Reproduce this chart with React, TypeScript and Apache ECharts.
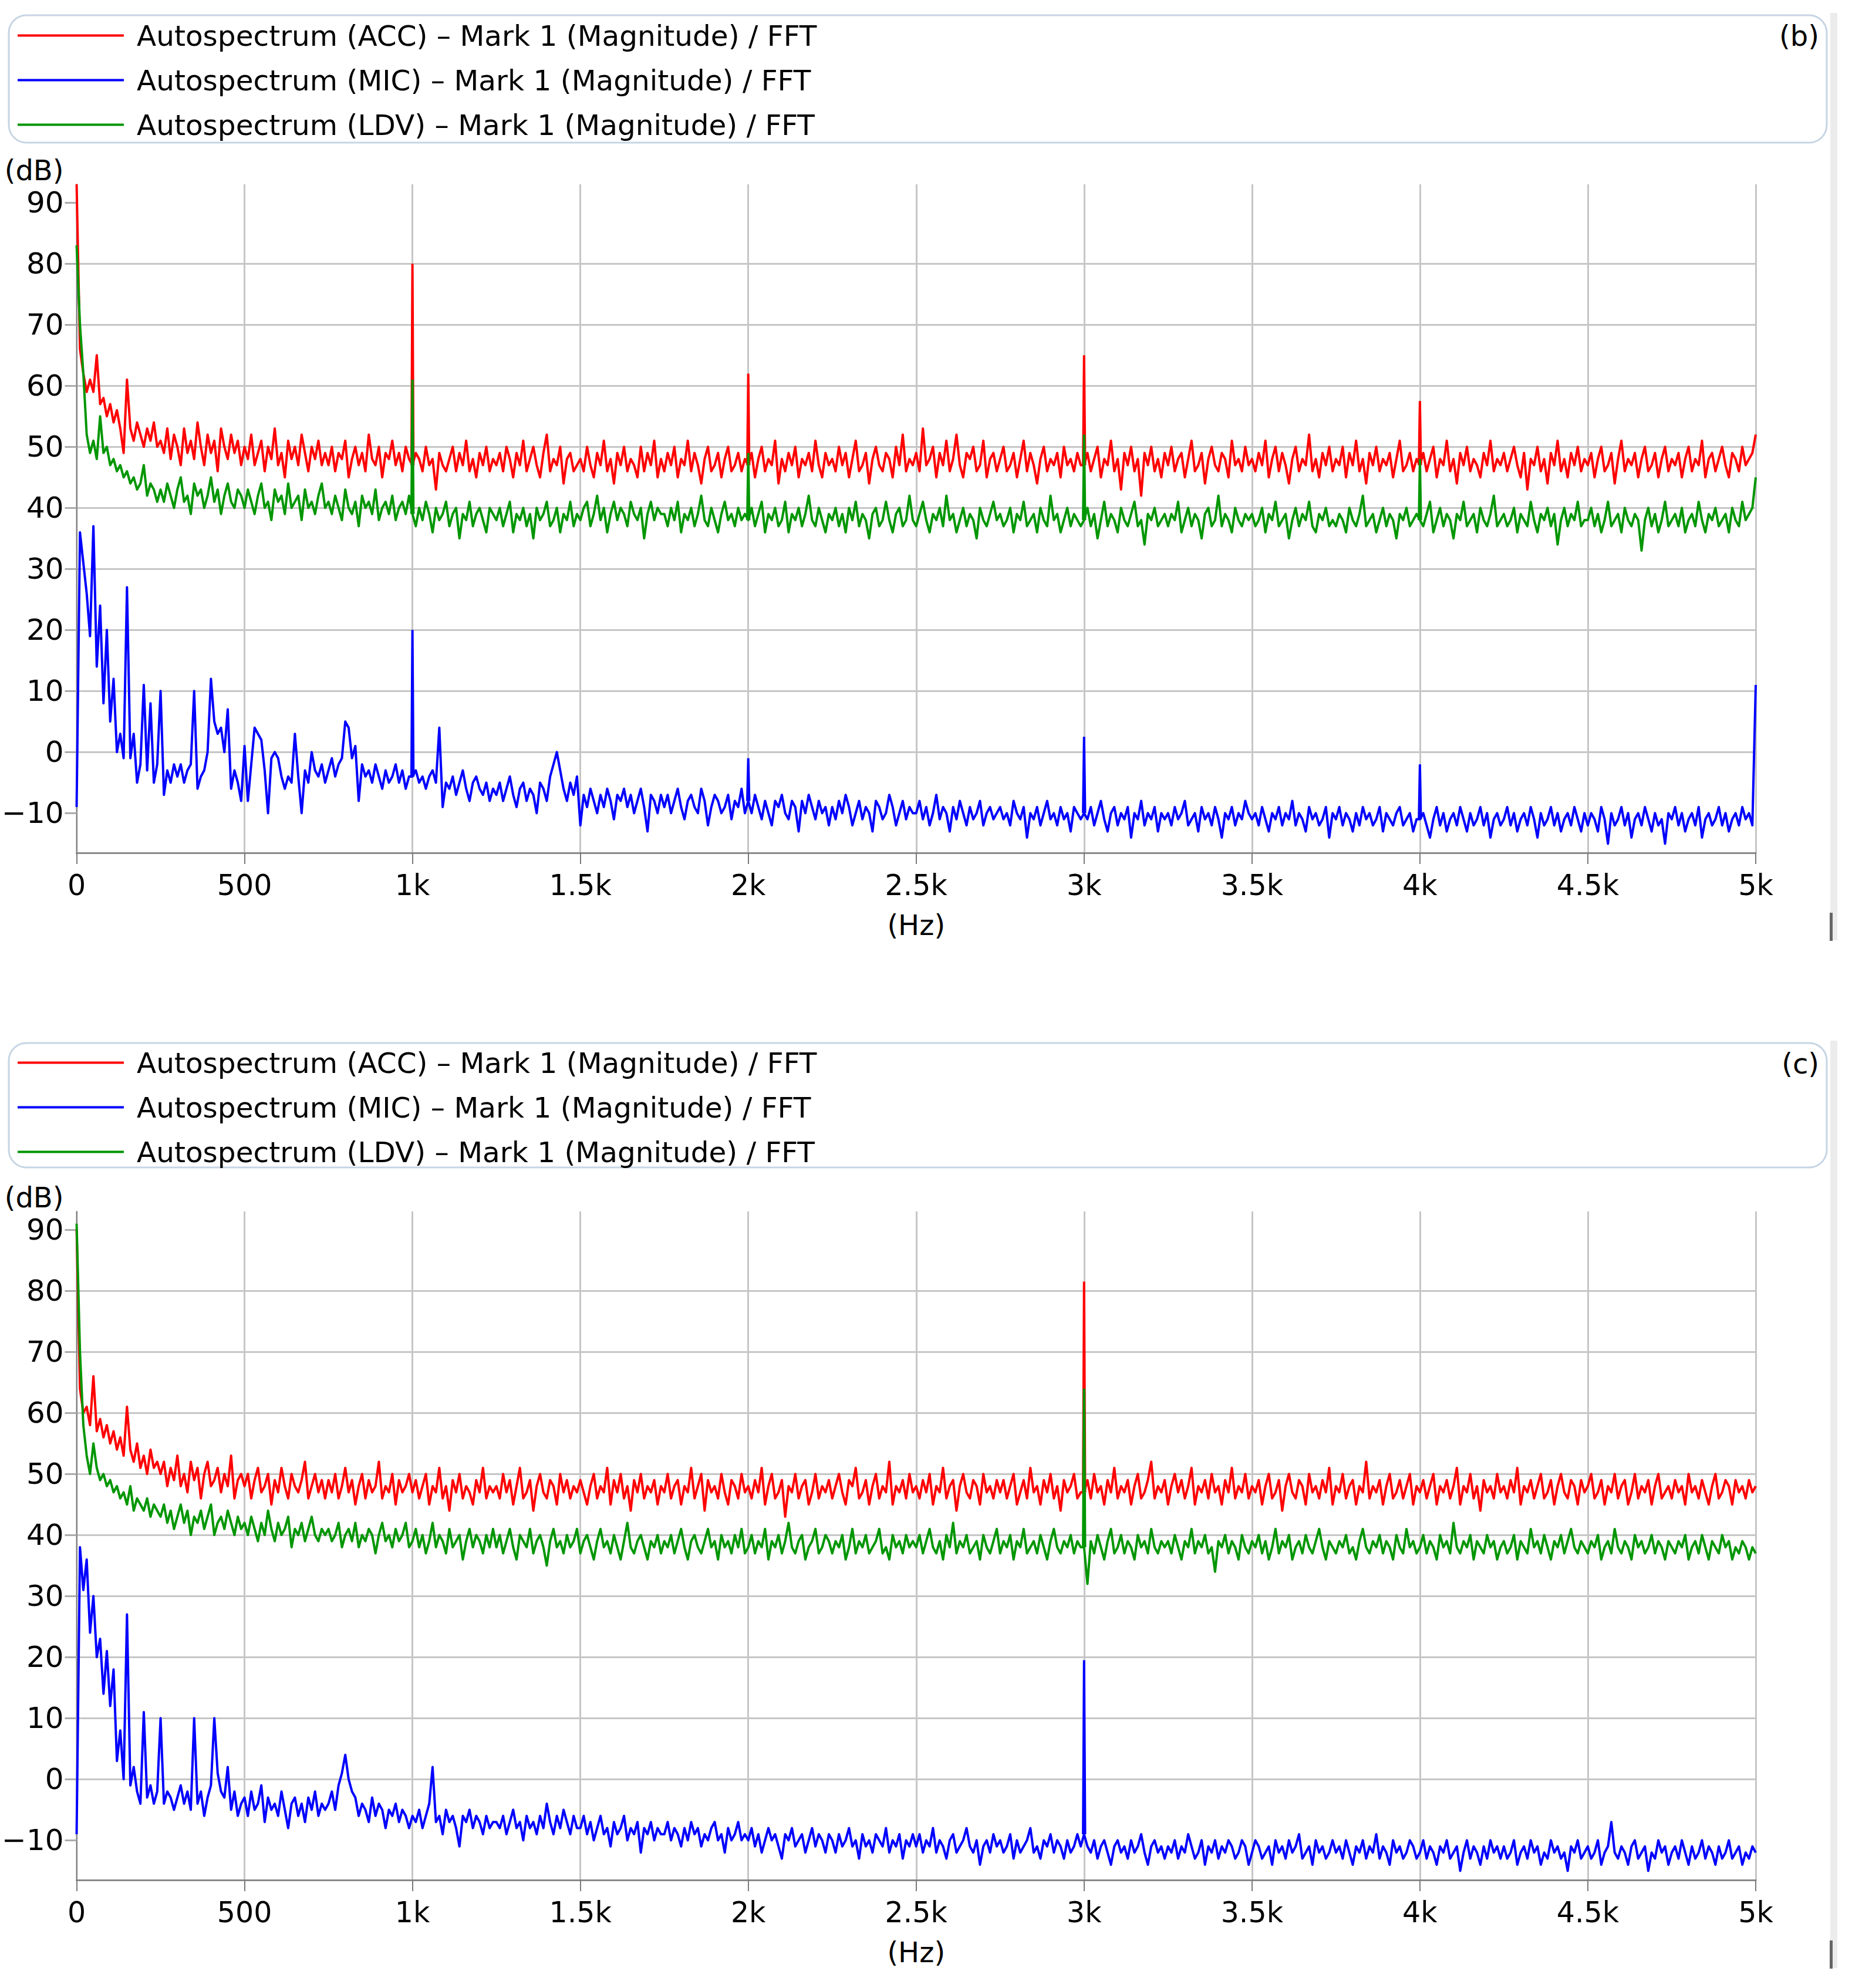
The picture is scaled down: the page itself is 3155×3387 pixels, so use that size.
import React, { useEffect, useRef } from "react";
import * as echarts from "echarts";

const FONT = "DejaVu Sans";
const F_MAX = 5000;
const Y_TICKS = [-10, 0, 10, 20, 30, 40, 50, 60, 70, 80, 90];
const SERIES_NAMES = [
  "Autospectrum (ACC) – Mark 1 (Magnitude) / FFT",
  "Autospectrum (MIC) – Mark 1 (Magnitude) / FFT",
  "Autospectrum (LDV) – Mark 1 (Magnitude) / FFT",
];
const COLORS = ["#ff0000", "#0000ff", "#009600"];
const PANEL_LABELS = ["(b)", "(c)"];

// ---------- Panel (b) : 0..5000 Hz, 10 Hz bins ----------
const accB = [
  93, 66, 62, 59, 61, 59, 65, 57, 58, 55, 57, 54, 56, 53, 49, 61, 53, 51, 54, 52, 50, 53, 51, 54, 50,
  51, 49, 53, 48, 52, 50, 47, 53, 49, 51, 48, 54, 50, 47, 52, 49, 51, 46, 53, 50, 48, 52, 49, 51, 47,
  50, 48, 52, 47, 49, 51, 46, 50, 48, 53, 47, 49, 45, 51, 48, 50, 47, 52, 49, 46, 50, 48, 51, 47, 49,
  47, 50, 46, 49, 48, 51, 45, 48, 50, 47, 49, 46, 52, 48, 47, 50, 45, 49, 48, 51, 47, 49, 46, 50, 48,
  47, 49, 48, 46, 50, 47, 48, 43, 49, 47, 46, 48, 50, 46, 49, 47, 51, 46, 48, 45, 49, 47, 50, 46, 48,
  47, 49, 46, 50, 48, 45, 49, 47, 51, 46, 48, 50, 47, 45, 49, 52, 46, 48, 47, 50, 44, 48, 49, 46, 47,
  48, 46, 50, 47, 45, 49, 47, 51, 46, 48, 44, 49, 47, 50, 46, 48, 47, 45, 50, 46, 49, 47, 51, 45, 48,
  46, 49, 47, 50, 45, 48, 47, 51, 46, 49, 47, 44, 48, 50, 46, 47, 49, 45, 48, 50, 46, 47, 49, 46, 48,
  47, 49, 45, 48, 50, 46, 48, 47, 51, 44, 48, 46, 49, 47, 50, 45, 48, 47, 49, 46, 51, 47, 45, 49, 47,
  48, 46, 50, 47, 49, 45, 48, 51, 46, 47, 49, 44, 48, 50, 47, 46, 49, 48, 45, 50, 47, 52, 46, 48, 47,
  49, 46, 53, 47, 48, 50, 45, 49, 47, 51, 46, 48, 52, 47, 45, 49, 48, 50, 46, 47, 51, 45, 48, 49, 46,
  48, 50, 46, 47, 49, 45, 48, 51, 46, 49, 47, 44, 48, 50, 46, 48, 47, 49, 45, 50, 47, 48, 46, 49, 47,
  47, 49, 46, 48, 50, 45, 48, 47, 51, 46, 48, 43, 49, 47, 50, 46, 48, 42, 49, 47, 50, 46, 48, 45, 49,
  47, 50, 46, 48, 49, 45, 48, 51, 46, 47, 49, 44, 48, 50, 47, 46, 49, 48, 45, 51, 47, 48, 46, 50, 47,
  48, 46, 49, 47, 51, 45, 48, 50, 46, 49, 47, 44, 48, 50, 46, 48, 47, 52, 46, 48, 45, 49, 47, 50, 46,
  48, 47, 50, 45, 49, 47, 51, 46, 48, 44, 49, 47, 50, 46, 48, 47, 49, 45, 48, 51, 46, 47, 49, 46, 48,
  47, 49, 46, 48, 50, 45, 48, 47, 51, 46, 48, 44, 49, 47, 50, 46, 48, 47, 45, 49, 47, 51, 46, 48, 47,
  49, 46, 48, 50, 47, 45, 49, 43, 48, 47, 50, 46, 48, 44, 49, 47, 51, 46, 48, 45, 49, 47, 50, 46, 48,
  47, 49, 45, 48, 50, 46, 47, 49, 44, 48, 51, 46, 48, 47, 49, 45, 48, 50, 46, 47, 49, 45, 48, 50, 46,
  48, 47, 49, 45, 48, 50, 46, 48, 47, 51, 45, 48, 49, 46, 48, 50, 47, 45, 49, 48, 46, 50, 47, 48, 49,
  52,
];
const micB = [
  -9, 36, 31, 26, 19, 37, 14, 24, 8, 20, 5, 12, 0, 3, -1, 27, -1, 3, -5, -2, 11, -3, 8, -5, -2,
  10, -7, -3, -5, -2, -4, -2, -5, -3, -2, 10, -6, -4, -3, 0, 12, 5, 3, 4, 0, 7, -6, -3, -5, -8,
  1, -8, -2, 4, 3, 2, -3, -10, -1, 0, -1, -4, -6, -4, -5, 3, -4, -10, -3, -5, 0, -3, -4, -2, -5,
  -3, -1, -4, -2, -1, 5, 4, -1, 1, -8, -2, -4, -3, -5, -2, -4, -6, -3, -5, -4, -2, -5, -3, -6, -4,
  -4, -3, -5, -4, -6, -4, -3, -5, 4, -9, -5, -6, -4, -7, -5, -3, -6, -8, -5, -4, -6, -7, -5, -8, -6,
  -7, -5, -8, -6, -4, -7, -9, -6, -5, -8, -6, -7, -10, -5, -6, -8, -4, -2, 0, -3, -6, -8, -5, -7, -4,
  -12, -7, -9, -6, -8, -10, -7, -9, -6, -8, -11, -7, -8, -6, -9, -7, -10, -8, -6, -9, -13, -7, -8, -10, -7,
  -9, -7, -10, -8, -6, -9, -11, -8, -7, -9, -10, -6, -8, -12, -9, -7, -8, -10, -9, -7, -11, -8, -9, -6, -10,
  -8, -10, -7, -9, -11, -8, -10, -12, -8, -9, -7, -10, -11, -8, -9, -13, -8, -10, -7, -9, -11, -8, -10, -9, -12,
  -9, -11, -8, -10, -7, -9, -12, -10, -8, -11, -9, -10, -13, -8, -9, -11, -10, -7, -9, -12, -10, -8, -11, -9, -10,
  -10, -8, -11, -9, -12, -10, -7, -11, -9, -10, -13, -9, -11, -8, -10, -12, -9, -11, -10, -8, -12, -10, -9, -11, -10,
  -9, -11, -10, -12, -8, -10, -11, -9, -14, -10, -11, -9, -12, -10, -8, -11, -10, -12, -9, -11, -10, -13, -9, -10, -11,
  -10, -11, -9, -12, -10, -8, -11, -13, -10, -9, -12, -10, -11, -9, -14, -10, -11, -8, -12, -10, -11, -9, -13, -10, -11,
  -10, -12, -9, -11, -10, -8, -12, -11, -10, -13, -9, -11, -10, -12, -9, -11, -14, -10, -11, -9, -12, -10, -11, -8, -10,
  -11, -10, -12, -9, -11, -13, -10, -11, -9, -12, -10, -11, -8, -12, -10, -11, -13, -9, -11, -10, -12, -11, -9, -14, -10,
  -11, -9, -12, -10, -11, -13, -10, -12, -9, -11, -10, -12, -11, -9, -13, -10, -11, -12, -10, -9, -12, -11, -10, -13, -11,
  -11, -10, -12, -14, -11, -9, -12, -10, -13, -11, -10, -12, -9, -11, -13, -10, -12, -11, -9, -12, -10, -14, -11, -10, -12,
  -11, -9, -12, -10, -13, -11, -10, -12, -9, -11, -14, -10, -12, -11, -9, -12, -10, -13, -11, -10, -12, -9, -11, -13, -10,
  -12, -10, -11, -13, -9, -11, -15, -10, -12, -11, -9, -12, -10, -14, -11, -10, -12, -9, -11, -13, -10, -12, -11, -15, -10,
  -11, -9, -12, -10, -13, -11, -10, -12, -9, -14, -11, -10, -12, -11, -9, -12, -10, -13, -11, -10, -12, -9, -11, -10, -12,
  11,
];
const ldvB = [
  83, 70, 62, 52, 49, 51, 48, 55, 49, 50, 47, 48, 46, 47, 45, 46, 44, 45, 43, 44, 47, 42, 44, 43, 41,
  43, 41, 44, 42, 40, 43, 45, 41, 42, 39, 44, 42, 43, 40, 42, 45, 41, 43, 39, 42, 44, 41, 40, 43, 42,
  40, 43, 41, 39, 42, 44, 40, 41, 38, 43, 41, 42, 39, 44, 40, 41, 42, 38, 43, 40, 41, 39, 42, 44, 40,
  41, 39, 42, 40, 38, 43, 40, 39, 41, 37, 42, 40, 41, 39, 43, 38, 40, 41, 39, 42, 38, 40, 41, 39, 42,
  39, 37, 40, 38, 41, 39, 36, 40, 38, 39, 41, 37, 39, 40, 35, 39, 38, 41, 37, 39, 40, 38, 36, 40, 39,
  38, 40, 37, 39, 41, 36, 39, 38, 40, 37, 39, 35, 40, 38, 39, 41, 37, 38, 40, 36, 39, 38, 41, 37, 39,
  38, 40, 41, 37, 39, 42, 38, 40, 36, 39, 41, 38, 40, 39, 37, 41, 39, 38, 40, 35, 39, 41, 38, 40, 39,
  39, 37, 40, 38, 41, 36, 39, 38, 40, 37, 39, 42, 38, 37, 40, 38, 36, 39, 41, 38, 39, 37, 40, 38, 39,
  38, 40, 37, 39, 41, 36, 39, 38, 40, 37, 38, 41, 36, 39, 38, 40, 37, 39, 42, 38, 37, 40, 38, 36, 39,
  38, 40, 37, 39, 36, 40, 38, 41, 37, 39, 38, 35, 39, 40, 37, 38, 41, 38, 36, 39, 40, 37, 38, 42, 38,
  37, 39, 41, 38, 36, 39, 38, 40, 37, 42, 38, 39, 36, 38, 40, 37, 39, 38, 35, 40, 38, 37, 39, 41, 38,
  39, 37, 38, 40, 36, 39, 38, 41, 37, 38, 39, 36, 40, 38, 37, 42, 38, 39, 36, 38, 40, 37, 39, 38, 37,
  38, 40, 37, 39, 35, 38, 41, 37, 39, 38, 36, 40, 38, 37, 39, 41, 37, 38, 34, 39, 38, 40, 37, 38, 39,
  37, 39, 38, 41, 36, 38, 40, 37, 39, 38, 35, 39, 40, 37, 38, 42, 37, 39, 38, 36, 40, 38, 37, 39, 38,
  39, 37, 38, 40, 36, 39, 38, 41, 37, 38, 39, 35, 38, 40, 37, 39, 38, 41, 37, 36, 39, 38, 40, 37, 38,
  37, 39, 38, 36, 40, 38, 37, 39, 42, 37, 38, 39, 36, 38, 40, 37, 39, 38, 35, 39, 38, 40, 37, 38, 39,
  38, 37, 39, 41, 36, 38, 40, 37, 39, 38, 35, 39, 38, 41, 37, 38, 39, 36, 40, 38, 37, 39, 42, 37, 38,
  39, 37, 38, 40, 36, 39, 38, 37, 41, 38, 36, 39, 38, 40, 37, 39, 34, 38, 40, 37, 39, 38, 41, 37, 38,
  38, 40, 37, 39, 36, 38, 41, 37, 38, 39, 36, 40, 38, 37, 39, 38, 33, 38, 40, 37, 39, 36, 38, 41, 37,
  38, 39, 37, 40, 36, 38, 39, 37, 41, 38, 36, 39, 38, 40, 37, 38, 39, 36, 40, 38, 37, 41, 38, 39, 40,
  45,
];
// narrow harmonic lines: [frequency Hz, level dB]
const accPeaksB = [[1000, 80], [2000, 62], [3000, 65], [4000, 57.5]];
const micPeaksB = [[1000, 20], [2000, -1], [3000, 2.5], [4000, -2]];
const ldvPeaksB = [[1000, 61], [2000, 49], [3000, 52], [4000, 48]];

// ---------- Panel (c) ----------
const accC = [
  90, 64, 60, 61, 58, 66, 57, 59, 56, 58, 55, 57, 54, 56, 53, 61, 54, 52, 55, 51, 53, 50, 54, 51, 52,
  50, 52, 48, 51, 49, 53, 48, 50, 47, 52, 49, 51, 46, 50, 52, 48, 49, 51, 47, 50, 48, 53, 46, 49, 50,
  48, 50, 46, 49, 51, 47, 48, 50, 45, 49, 47, 51, 48, 46, 50, 48, 47, 49, 52, 46, 48, 50, 47, 49, 46,
  49, 47, 50, 46, 48, 51, 47, 49, 45, 48, 50, 46, 49, 47, 48, 52, 46, 48, 47, 50, 45, 49, 47, 48, 50,
  47, 49, 46, 48, 50, 45, 48, 47, 51, 46, 48, 44, 49, 47, 50, 46, 48, 47, 45, 49, 47, 51, 46, 48, 47,
  48, 46, 50, 47, 49, 45, 48, 51, 46, 47, 49, 44, 48, 50, 47, 46, 49, 48, 45, 50, 47, 49, 46, 48, 47,
  49, 47, 45, 48, 50, 46, 48, 47, 51, 45, 49, 47, 50, 46, 48, 44, 49, 47, 50, 46, 48, 47, 49, 45, 48,
  47, 50, 46, 48, 49, 45, 48, 47, 51, 46, 48, 50, 44, 49, 47, 48, 46, 50, 47, 45, 49, 48, 46, 50, 47,
  48, 46, 49, 47, 51, 45, 48, 50, 46, 47, 49, 43, 48, 47, 50, 46, 48, 49, 45, 47, 50, 46, 48, 47, 49,
  46, 48, 50, 47, 45, 49, 48, 51, 46, 47, 49, 45, 48, 50, 46, 48, 47, 52, 45, 48, 47, 49, 46, 50, 47,
  48, 46, 49, 47, 50, 45, 48, 47, 51, 46, 48, 49, 44, 48, 50, 47, 46, 49, 48, 45, 50, 47, 48, 46, 49,
  47, 49, 46, 48, 50, 45, 47, 49, 46, 51, 47, 48, 45, 49, 47, 50, 46, 48, 44, 49, 47, 48, 50, 46, 47,
  47, 49, 46, 50, 47, 48, 45, 49, 47, 51, 46, 48, 47, 49, 45, 48, 50, 46, 47, 49, 52, 46, 48, 47, 49,
  45, 48, 50, 47, 49, 46, 48, 51, 45, 48, 47, 49, 46, 50, 47, 48, 45, 49, 47, 51, 46, 48, 47, 50, 46,
  48, 47, 49, 45, 48, 50, 46, 47, 49, 44, 48, 50, 47, 46, 49, 48, 45, 50, 47, 48, 46, 49, 47, 51, 45,
  48, 47, 50, 46, 48, 49, 45, 48, 47, 52, 46, 48, 47, 49, 45, 48, 50, 46, 47, 49, 46, 48, 50, 45, 48,
  47, 49, 46, 48, 50, 45, 48, 47, 49, 46, 48, 51, 45, 48, 47, 50, 46, 48, 44, 49, 47, 48, 46, 50, 47,
  48, 46, 49, 47, 51, 45, 48, 47, 49, 46, 48, 50, 46, 47, 49, 45, 48, 50, 47, 46, 49, 48, 45, 49, 47,
  48, 50, 46, 47, 49, 45, 48, 47, 50, 46, 48, 49, 45, 47, 50, 46, 48, 47, 49, 45, 48, 50, 46, 47, 48,
  46, 49, 47, 48, 45, 50, 47, 48, 46, 49, 47, 45, 48, 50, 46, 47, 49, 48, 45, 49, 47, 48, 46, 49, 47,
  48,
];
const micC = [
  -9, 38, 31, 36, 24, 30, 20, 23, 14, 21, 12, 18, 3, 8, 0, 27, -1, 2, -2, -4, 11, -3, -1, -4, -2,
  10, -4, -2, -3, -5, -3, -1, -4, -2, -5, 10, -4, -2, -6, -3, -1, 10, 1, -2, -3, 2, -5, -2, -6, -4,
  -3, -6, -2, -5, -4, -1, -7, -3, -5, -4, -6, -2, -5, -8, -4, -3, -6, -4, -7, -3, -5, -2, -6, -4, -5,
  -4, -2, -5, -1, 1, 4, 0, -2, -3, -6, -4, -5, -7, -3, -6, -4, -5, -8, -5, -6, -4, -7, -5, -6, -8,
  -6, -7, -5, -8, -6, -4, 2, -7, -6, -9, -5, -7, -6, -8, -11, -6, -7, -5, -8, -6, -7, -9, -6, -8, -7,
  -7, -8, -6, -9, -7, -5, -8, -7, -10, -6, -8, -7, -9, -6, -8, -4, -7, -9, -6, -8, -5, -7, -9, -6, -8,
  -8, -6, -9, -7, -10, -8, -6, -9, -8, -11, -7, -9, -8, -6, -10, -8, -9, -7, -12, -8, -9, -7, -10, -8, -9,
  -9, -7, -10, -8, -9, -11, -8, -10, -7, -9, -8, -11, -9, -10, -8, -7, -10, -9, -12, -8, -10, -9, -7, -10, -9,
  -10, -8, -11, -9, -12, -10, -8, -10, -9, -11, -13, -9, -10, -8, -11, -10, -9, -12, -10, -8, -11, -9, -10, -12, -9,
  -10, -12, -9, -11, -10, -8, -11, -10, -13, -9, -11, -10, -12, -9, -10, -11, -8, -12, -10, -11, -9, -13, -10, -11, -9,
  -11, -9, -12, -10, -11, -8, -12, -10, -11, -13, -10, -9, -12, -11, -10, -8, -11, -12, -10, -14, -11, -10, -12, -9, -11,
  -10, -12, -11, -9, -13, -10, -12, -11, -10, -8, -12, -11, -13, -10, -11, -9, -12, -10, -11, -13, -10, -12, -11, -9, -11,
  -9, -11, -12, -10, -13, -11, -10, -12, -14, -11, -10, -12, -11, -13, -10, -12, -11, -9, -12, -14, -11, -10, -12, -11, -13,
  -11, -12, -10, -13, -11, -12, -9, -11, -13, -12, -10, -14, -11, -12, -10, -13, -11, -12, -10, -11, -13, -12, -10, -11, -14,
  -12, -10, -11, -13, -12, -11, -14, -10, -12, -11, -13, -10, -12, -11, -9, -13, -12, -11, -14, -10, -12, -11, -13, -12, -10,
  -12, -11, -13, -10, -12, -14, -11, -12, -10, -13, -11, -12, -9, -13, -11, -12, -14, -10, -12, -11, -13, -12, -10, -11, -13,
  -12, -10, -13, -11, -12, -14, -11, -12, -10, -13, -12, -11, -15, -12, -10, -13, -11, -12, -14, -11, -13, -10, -12, -11, -13,
  -11, -13, -12, -10, -14, -12, -11, -13, -10, -12, -11, -14, -12, -13, -10, -12, -11, -13, -12, -15, -11, -12, -10, -13, -12,
  -11, -13, -12, -10, -14, -12, -11, -7, -12, -13, -11, -12, -14, -11, -10, -13, -12, -11, -15, -12, -13, -10, -12, -11, -14,
  -12, -11, -13, -10, -12, -14, -11, -13, -12, -10, -13, -11, -12, -14, -11, -13, -12, -10, -13, -12, -11, -14, -12, -13, -11,
  -12,
];
const ldvC = [
  91, 70, 58, 53, 50, 55, 51, 49, 50, 48, 49, 47, 48, 46, 47, 45, 48, 44, 46, 45, 44, 46, 43, 45, 44,
  43, 45, 42, 44, 41, 43, 45, 42, 44, 40, 43, 42, 44, 41, 43, 45, 40, 42, 43, 41, 44, 42, 40, 43, 41,
  42, 40, 43, 41, 39, 42, 40, 44, 41, 39, 42, 40, 41, 43, 38, 41, 40, 42, 39, 41, 43, 40, 39, 41, 40,
  41, 39, 40, 42, 38, 40, 41, 39, 42, 38, 40, 39, 41, 40, 37, 40, 42, 39, 40, 38, 41, 39, 40, 42, 38,
  39, 41, 38, 40, 37, 39, 42, 38, 40, 39, 37, 41, 38, 39, 40, 36, 39, 41, 38, 40, 39, 37, 40, 38, 41,
  38, 40, 37, 39, 41, 38, 36, 40, 39, 38, 41, 37, 39, 40, 38, 35, 39, 41, 38, 39, 37, 40, 38, 39, 41,
  37, 39, 40, 38, 36, 39, 41, 38, 39, 37, 40, 38, 36, 39, 42, 38, 37, 39, 40, 38, 36, 39, 38, 40, 37,
  39, 38, 40, 37, 39, 41, 38, 36, 39, 40, 38, 37, 39, 41, 38, 39, 36, 40, 38, 39, 37, 40, 38, 41, 37,
  38, 40, 37, 39, 38, 41, 36, 39, 38, 40, 37, 39, 42, 38, 37, 39, 40, 36, 38, 39, 41, 37, 38, 40, 39,
  37, 39, 38, 40, 36, 38, 41, 37, 39, 38, 40, 37, 38, 39, 41, 37, 38, 36, 40, 38, 39, 37, 40, 38, 39,
  38, 40, 37, 39, 41, 38, 37, 39, 36, 40, 38, 42, 37, 39, 38, 40, 37, 38, 39, 36, 40, 38, 37, 39, 41,
  37, 39, 38, 40, 36, 39, 38, 41, 37, 38, 39, 37, 40, 38, 36, 39, 41, 38, 37, 39, 38, 40, 37, 39, 38,
  38, 32, 39, 37, 40, 38, 36, 39, 41, 37, 38, 40, 37, 39, 38, 36, 40, 38, 39, 37, 41, 38, 37, 39, 38,
  39, 37, 40, 38, 36, 39, 38, 41, 37, 39, 38, 40, 37, 38, 34, 39, 38, 40, 37, 39, 38, 36, 40, 38, 37,
  39, 38, 40, 37, 39, 36, 38, 41, 37, 39, 38, 40, 36, 38, 39, 37, 40, 38, 37, 39, 41, 38, 36, 39, 38,
  37, 39, 38, 40, 37, 38, 36, 39, 41, 38, 37, 39, 38, 40, 37, 39, 38, 36, 40, 38, 37, 41, 38, 39, 37,
  38, 40, 37, 39, 38, 36, 40, 38, 39, 37, 42, 38, 37, 39, 38, 40, 36, 39, 38, 37, 40, 38, 39, 36, 38,
  39, 37, 38, 40, 36, 39, 38, 37, 41, 38, 39, 37, 40, 38, 36, 39, 38, 40, 37, 39, 41, 38, 37, 39, 38,
  37, 39, 38, 40, 36, 38, 39, 37, 41, 38, 37, 39, 38, 36, 40, 38, 39, 37, 38, 40, 37, 39, 38, 36, 39,
  38, 37, 39, 38, 40, 36, 38, 39, 37, 40, 38, 36, 39, 38, 37, 40, 38, 39, 36, 38, 37, 39, 38, 36, 38,
  37,
];
const accPeaksC = [[3000, 81.5]];
const micPeaksC = [[3000, 19.5]];
const ldvPeaksC = [[3000, 64]];

const PANELS = [
  { main: [accB, micB, ldvB], peaks: [accPeaksB, micPeaksB, ldvPeaksB] },
  { main: [accC, micC, ldvC], peaks: [accPeaksC, micPeaksC, ldvPeaksC] },
];

// ---------- layout ----------
const W = 3155;
const H = 3387;
const PANEL_OFFSET = 1750;
const GRID_LEFT = 130;
const GRID_TOP = 314;
const GRID_W = 2861;
const GRID_H = 1139;
const LINE_W = 4;

const freqAt = (i: number, n: number) => (i * F_MAX) / (n - 1);
const toPairs = (vals: number[]) => vals.map((v, i) => [freqAt(i, vals.length), v]);
const spikePairs = (vals: number[], peaks: number[][]) => {
  const out: any[] = [];
  const step = F_MAX / (vals.length - 1);
  peaks.forEach(([f, v]) => {
    const b = vals[Math.round(f / step)];
    out.push([f - 3, b], [f, v], [f + 3, b], [f + 4, "-"]);
  });
  return out;
};

const xFormatter = (v: number) => (v === 0 ? "0" : v < 1000 ? String(v) : `${v / 1000}k`);

function buildOption() {
  const grids: any[] = [];
  const xAxes: any[] = [];
  const yAxes: any[] = [];
  const legends: any[] = [];
  const series: any[] = [];
  const elements: any[] = [];

  PANELS.forEach((panel, p) => {
    const off = p * PANEL_OFFSET;
    grids.push({ left: GRID_LEFT, top: GRID_TOP + off, width: GRID_W, height: GRID_H, containLabel: false });
    xAxes.push({
      type: "value",
      gridIndex: p,
      min: 0,
      max: F_MAX,
      interval: 500,
      name: "(Hz)",
      nameLocation: "middle",
      nameGap: 123,
      nameTextStyle: { fontSize: 48, color: "#000", fontFamily: FONT, verticalAlign: "middle" },
      axisLine: { show: true, onZero: false, lineStyle: { color: "#8a8a8a", width: 3 } },
      axisTick: { show: true, length: 19, lineStyle: { color: "#7a7a7a", width: 2 } },
      axisLabel: { margin: 31, fontSize: 49, color: "#000", fontFamily: FONT, formatter: xFormatter },
      splitLine: { show: true, lineStyle: { color: "#c6c6c6", width: 3 } },
    });
    yAxes.push({
      type: "value",
      gridIndex: p,
      min: -16.5,
      max: 93,
      minInterval: 10,
      maxInterval: 10,
      splitNumber: 11,
      name: "(dB)",
      nameLocation: "end",
      nameGap: 24,
      nameTextStyle: {
        fontSize: 48,
        color: "#000",
        fontFamily: FONT,
        align: "right",
        verticalAlign: "middle",
        padding: [0, 22, 0, 0],
      },
      axisLine: { show: true, lineStyle: { color: "#7f7f7f", width: 2 } },
      axisTick: { show: true, length: 20, customValues: Y_TICKS, lineStyle: { color: "#ababab", width: 3 } },
      axisLabel: {
        margin: 22,
        fontSize: 50,
        color: "#000",
        fontFamily: FONT,
        customValues: Y_TICKS,
        formatter: (v: number) => (Math.abs(v % 10) > 1e-6 ? "" : String(v).replace("-", "\u2212")),
      },
      splitLine: { show: true, showMinLine: false, showMaxLine: false, lineStyle: { color: "#c6c6c6", width: 3 } },
    });
    legends.push({
      orient: "vertical",
      left: 30,
      top: 36 + off,
      padding: 0,
      itemGap: 27,
      itemWidth: 181,
      itemHeight: 4,
      icon: "rect",
      selectedMode: false,
      data: SERIES_NAMES,
      textStyle: { fontSize: 48.5, lineHeight: 48, color: "#000", fontFamily: FONT, padding: [0, 0, 0, 17] },
    });
    panel.main.forEach((vals, k) => {
      series.push({
        type: "line",
        name: SERIES_NAMES[k],
        xAxisIndex: p,
        yAxisIndex: p,
        data: toPairs(vals),
        showSymbol: false,
        symbol: "none",
        color: COLORS[k],
        lineStyle: { color: COLORS[k], width: LINE_W, join: "round" },
        emphasis: { disabled: true },
        silent: true,
      });
      series.push({
        type: "line",
        name: SERIES_NAMES[k] + " lines " + PANEL_LABELS[p],
        xAxisIndex: p,
        yAxisIndex: p,
        data: spikePairs(vals, panel.peaks[k]),
        showSymbol: false,
        symbol: "none",
        connectNulls: false,
        color: COLORS[k],
        lineStyle: { color: COLORS[k], width: LINE_W },
        emphasis: { disabled: true },
        silent: true,
      });
    });

    // legend frame, panel label, scrollbar remnant
    const boxTop = p === 0 ? 26 : 1777;
    const boxH = p === 0 ? 217 : 212;
    elements.push({
      type: "rect",
      z: -10,
      shape: { x: 15, y: boxTop, width: 3097, height: boxH, r: 30 },
      style: { fill: "#ffffff", stroke: "#c6d5e4", lineWidth: 3 },
      silent: true,
    });
    elements.push({
      type: "text",
      z: 10,
      x: 3099,
      y: boxTop + 35,
      style: {
        text: PANEL_LABELS[p],
        fill: "#000",
        fontSize: 48,
        fontFamily: FONT,
        align: "right",
        verticalAlign: "middle",
      },
      silent: true,
    });
    elements.push({
      type: "rect",
      z: -10,
      shape: { x: 3118, y: boxTop - 4, width: 12, height: 1580 },
      style: { fill: "#ececec" },
      silent: true,
    });
    elements.push({
      type: "rect",
      z: -9,
      shape: { x: 3117, y: boxTop + 1529, width: 5, height: 48 },
      style: { fill: "#666666" },
      silent: true,
    });
  });

  return {
    animation: false,
    backgroundColor: "#ffffff",
    textStyle: { fontFamily: FONT },
    grid: grids,
    xAxis: xAxes,
    yAxis: yAxes,
    legend: legends,
    graphic: { elements },
    series,
  };
}

export default function App() {
  const ref = useRef<HTMLDivElement | null>(null);
  useEffect(() => {
    document.body.style.margin = "0";
    if (!ref.current) return;
    const chart = echarts.init(ref.current, undefined, { renderer: "svg", width: W, height: H });
    chart.setOption(buildOption() as any);
    return () => {
      chart.dispose();
    };
  }, []);
  return <div ref={ref} style={{ width: W, height: H, background: "#fff" }} />;
}
